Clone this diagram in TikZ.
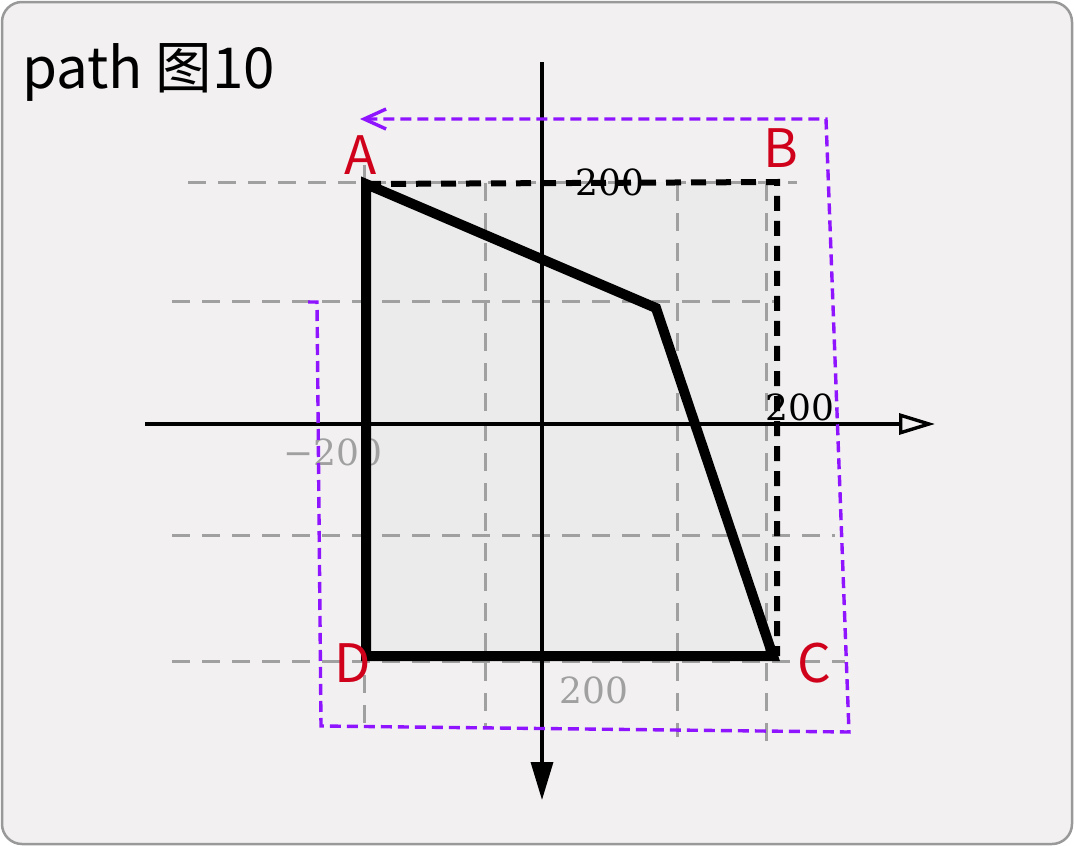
\documentclass[tikz,border=0pt]{standalone}
\usepackage{fontspec}
\usetikzlibrary{arrows.meta}
\newfontfamily\cjk{Noto Sans CJK SC}
\newfontfamily\dvs{DejaVu Serif}
\definecolor{bgc}{HTML}{F2F0F1}
\definecolor{framec}{HTML}{999999}
\definecolor{fillc}{HTML}{ECEBEC}
\definecolor{gridc}{HTML}{A0A0A0}
\definecolor{purp}{HTML}{8F14FF}
\definecolor{redc}{HTML}{D0021B}
\tikzset{
  gridline/.style={draw=gridc, line width=3pt, dash pattern=on 18pt off 12pt},
  axisline/.style={draw=black, line width=3.4pt},
  shapeline/.style={draw=black, line width=10pt, line join=miter},
  boxline/.style={draw=black, line width=6pt, dash pattern=on 15pt off 10pt},
  purpline/.style={draw=purp, line width=3.4pt, dash pattern=on 11pt off 6pt},
  ptlabel/.style={text=redc, font=\cjk\fontsize{53}{55}\selectfont, inner sep=0pt},
  numlabel/.style={font=\dvs\fontsize{36}{38}\selectfont, inner sep=0pt},
}
\begin{document}
\begin{tikzpicture}[x=1pt,y=-1pt]
\useasboundingbox (0,0) rectangle (1074,846);
\draw[framec, fill=bgc, line width=2.5pt, rounded corners=20pt] (2,2) rectangle (1072,844);
\node[anchor=base west, inner sep=0pt, font=\cjk\fontsize{56.5}{60}\selectfont] (title) at (22,88) {path 图10};
% coordinates
\coordinate (A) at (366,184);
\coordinate (E) at (656,308);
\coordinate (C) at (773,656);
\coordinate (D) at (366,656);
\coordinate (B) at (777,182);
\coordinate (Cb) at (777,656);
% fill
\fill[fillc] (366,182) rectangle (780,656);
% grid
\draw[gridline] (188,182) -- (797,182);
\draw[gridline] (172,301) -- (780,301);
\draw[gridline] (172,535) -- (835,535);
\draw[gridline] (172,661) -- (845,661);
\draw[gridline] (364,165) -- (364,727);
\draw[gridline] (485,183) -- (485,727);
\draw[gridline] (677,183) -- (677,737);
\draw[gridline] (766,183) -- (766,748);
% axes
\coordinate (xs) at (145,424);
\coordinate (xe) at (935,424);
\coordinate (ys) at (542,62);
\coordinate (ye) at (542,800);
\draw[axisline, -{Triangle[open, length=36pt, width=21pt]}] (xs) -- (xe);
\draw[axisline, -{Triangle[length=38pt, width=22pt]}] (ys) -- (ye);
% numbers
\node[numlabel, text=gridc] (nxm) at (333,452) {−200};
\node[numlabel, text=gridc] (nyb) at (594,690) {200};
\node[numlabel, text=black] (nxr) at (800,407) {200};
% polygon
\draw[shapeline] (A) -- (E) -- (C) -- (D) -- cycle;
% dashed box
\draw[boxline] (A) -- (B) -- (Cb);
\node[numlabel, text=black] (nyt) at (610,182) {200};
% purple path
\coordinate (p0) at (308,302);
\coordinate (p1) at (317,302);
\coordinate (p2) at (321,726);
\coordinate (p3) at (849,732);
\coordinate (p4) at (826,119);
\coordinate (p5) at (360,119);
\draw[purpline, -{Straight Barb[length=22pt, width=20pt]}] (p0) -- (p1) -- (p2) -- (p3) -- (p4) -- (p5);
% point labels
\node[ptlabel] (la) at (361,155) {A};
\node[ptlabel] (lb) at (781,148) {B};
\node[ptlabel] (lc) at (814,663) {C};
\node[ptlabel] (ld) at (353,663) {D};
\end{tikzpicture}
\end{document}
